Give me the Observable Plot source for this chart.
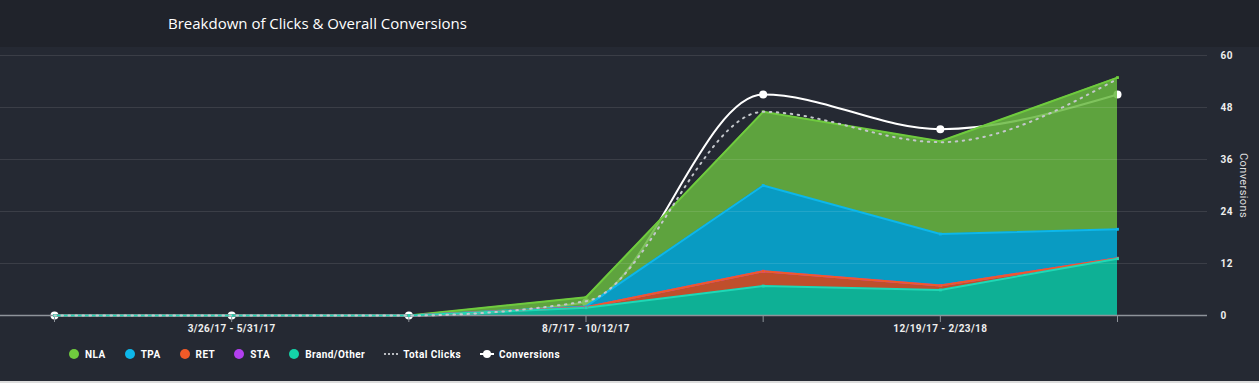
<!DOCTYPE html>
<html>
<head>
<meta charset="utf-8">
<script src="https://cdn.jsdelivr.net/npm/d3@7"></script>
<script src="https://cdn.jsdelivr.net/npm/@observablehq/plot@0.6"></script>
<style>
  html, body { margin: 0; padding: 0; }
  body { width: 1259px; height: 383px; overflow: hidden; position: relative; background: #252933; font-family: Roboto, "Liberation Sans", sans-serif; }
  #header { position: absolute; left: 0; top: 0; width: 1259px; height: 47px; background: #20232b; }
  #title { position: absolute; left: 168px; top: 13px; font-family: "Open Sans", sans-serif; font-size: 15px; line-height: 20px; color: #ffffff; }
  #chart { position: absolute; left: 0; top: 47px; }
  #legend { position: absolute; left: 69px; top: 344px; height: 20px; display: flex; align-items: center; color: #ffffff; font-size: 10px; font-weight: bold; letter-spacing: 0.45px; }
  .item { display: flex; align-items: center; margin-right: 19px; }
  .sw { width: 10px; height: 10px; border-radius: 50%; margin-right: 6px; }
  .dotted { width: 14px; height: 0; border-top: 2px dotted #b9bcc1; margin-right: 5px; }
  .conv { width: 14px; height: 2px; background: #fff; position: relative; margin-right: 5px; }
  .conv::after { content: ""; position: absolute; left: 3px; top: -3px; width: 8px; height: 8px; border-radius: 50%; background: #fff; }
  #bottom { position: absolute; left: 0; top: 381px; width: 1259px; height: 2px; background: #dcdcdc; }
</style>
</head>
<body>
<div id="header"><div id="title">Breakdown of Clicks &amp; Overall Conversions</div></div>
<div id="chart"></div>
<div id="legend"></div>
<div id="bottom"></div>
<script>
// ---- data ----
const periods = [0, 1, 2, 3, 4, 5, 6];
const xLabels = ["", "3/26/17 - 5/31/17", "", "8/7/17 - 10/12/17", "", "12/19/17 - 2/23/18", ""];
const yTicks = [0, 12, 24, 36, 48, 60];
const seriesNames = ["NLA", "TPA", "RET", "STA", "Brand/Other"];
const nla   = [0, 0, 0, 2.1, 17.0, 21.4, 35.0];
const tpa   = [0, 0, 0, 0.2, 19.8, 11.9, 6.7];
const ret   = [0, 0, 0, 0.1, 3.4, 1.0, 0.1];
const sta   = [0, 0, 0, 0, 0, 0, 0];
const brand = [0, 0, 0, 1.8, 6.8, 5.9, 13.1];
const totalClicks = [0, 0, 0, 3.3, 47, 40, 54.6];
const conversions = [0, 0, 0, 3, 51, 43, 51];

// ---- styles ----
const fillColor = {"NLA": "#68b841", "TPA": "#05afdc", "RET": "#db562c", "STA": "#a83be8", "Brand/Other": "#0bc8a7"};
const lineColor = {"NLA": "#6fcb3e", "TPA": "#0db7ea", "RET": "#f05a28", "STA": "#b23fef", "Brand/Other": "#1fd8b6"};
const legendColor = {"NLA": "#6fcb3e", "TPA": "#0db7ea", "RET": "#f05a28", "STA": "#b23fef", "Brand/Other": "#14d3a8"};
const stackOrder = ["Brand/Other", "RET", "STA", "TPA", "NLA"];

const valuesBySeries = {"NLA": nla, "TPA": tpa, "RET": ret, "STA": sta, "Brand/Other": brand};
const rows = seriesNames.flatMap(s => periods.map(i => ({i, series: s, value: valuesBySeries[s][i]})));
// draw lines so Brand/Other is on top
const lineRows = ["NLA", "TPA", "STA", "RET", "Brand/Other"].flatMap(s => periods.map(i => ({i, series: s, value: valuesBySeries[s][i]})));
const convRows = periods.map(i => ({i, value: conversions[i]}));
const clickRows = periods.map(i => ({i, value: totalClicks[i]}));

const chart = Plot.plot({
  width: 1259,
  height: 296,
  marginLeft: 0,
  marginRight: 52,
  marginTop: 8,
  marginBottom: 28,
  style: {background: "transparent", overflow: "visible", fontFamily: "Roboto, sans-serif", fontSize: "10px", color: "#e8e8e8", letterSpacing: "0.4px"},
  x: {domain: [0, 6], range: [54, 1117], axis: null},
  y: {domain: [0, 60], axis: null},
  color: {type: "identity"},
  marks: [
    Plot.lineY(convRows, {x: "i", y: "value", stroke: "#ffffff", strokeWidth: 2, curve: "monotone-x"}),
    Plot.dot(convRows, {x: "i", y: "value", r: 4, fill: "#ffffff"}),
    Plot.areaY(rows, Plot.stackY({x: "i", y: "value", z: "series", order: stackOrder, fill: d => fillColor[d.series], fillOpacity: 0.85})),
    Plot.ruleY(yTicks.filter(t => t > 0), {stroke: "#ffffff", strokeOpacity: 0.1}),
    Plot.ruleY([0], {stroke: "#8e939a", strokeWidth: 1.5}),
    Plot.axisX({ticks: periods, tickSize: 7, tickPadding: 2, tickFormat: i => xLabels[i], label: null, stroke: "#8e939a", fill: "#eeeeee", fontWeight: "bold"}),
    Plot.lineY(lineRows, Plot.stackY2({x: "i", y: "value", z: "series", order: stackOrder, stroke: d => lineColor[d.series], strokeWidth: 2})),
    Plot.dot(lineRows, Plot.stackY2({x: "i", y: "value", z: "series", order: stackOrder, fill: d => lineColor[d.series], symbol: "square", r: 1.6})),
    Plot.lineY(clickRows, {x: "i", y: "value", stroke: "#c4c7cc", strokeWidth: 2, strokeDasharray: "1.5,5.5", curve: "monotone-x"}),
    Plot.axisY({anchor: "right", ticks: yTicks, tickSize: 0, tickPadding: 13, label: null, fill: "#eeeeee", fontWeight: "bold"}),
    Plot.text(["Conversions"], {frameAnchor: "right", textAnchor: "middle", rotate: 90, dx: 36, fontSize: 11, fill: "#dddddd"})
  ]
});
document.getElementById("chart").appendChild(chart);

// ---- legend ----
const legend = document.getElementById("legend");
seriesNames.forEach(s => {
  const it = document.createElement("div");
  it.className = "item";
  const sw = document.createElement("span");
  sw.className = "sw";
  sw.style.background = legendColor[s];
  it.appendChild(sw);
  it.appendChild(document.createTextNode(s));
  legend.appendChild(it);
});
[["Total Clicks", "dotted"], ["Conversions", "conv"]].forEach(([label, cls]) => {
  const it = document.createElement("div");
  it.className = "item";
  const sw = document.createElement("span");
  sw.className = cls;
  it.appendChild(sw);
  it.appendChild(document.createTextNode(label));
  legend.appendChild(it);
});
</script>
</body>
</html>
